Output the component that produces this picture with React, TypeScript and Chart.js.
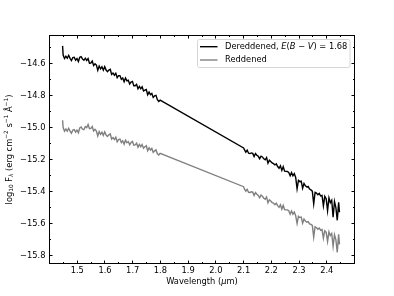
import React, { useEffect, useRef } from "react";
import { Chart, registerables } from "chart.js";

Chart.register(...registerables);

const FONT = "'DejaVu Sans', sans-serif";
const FS = 8.3;

// ---- Data (wavelength in micron, log10 F_lambda) ----
const WL_1 = [
  1.447, 1.449, 1.454, 1.459, 1.464, 1.469, 1.474, 1.479, 1.484, 1.489,
  1.494, 1.499, 1.504, 1.509, 1.514, 1.519, 1.524, 1.529, 1.534, 1.539,
  1.544, 1.549, 1.554, 1.559, 1.564, 1.569, 1.574, 1.579, 1.584, 1.589,
  1.594, 1.599, 1.604, 1.609, 1.614, 1.619, 1.624, 1.629, 1.634, 1.639,
  1.644, 1.649, 1.654, 1.659, 1.664, 1.669, 1.674, 1.679, 1.684, 1.689,
  1.694, 1.699, 1.704, 1.709, 1.714, 1.719, 1.724, 1.729, 1.734, 1.739,
  1.744, 1.749, 1.754, 1.759, 1.764, 1.769, 1.774, 1.779, 1.784, 1.789,
  1.794, 1.799,
];
const DERED_1 = [
  -14.49, -14.547, -14.569, -14.555, -14.567, -14.549, -14.568, -14.582, -14.563, -14.561,
  -14.58, -14.569, -14.588, -14.561, -14.557, -14.573, -14.58, -14.567, -14.581, -14.569,
  -14.598, -14.597, -14.585, -14.613, -14.602, -14.61, -14.643, -14.616, -14.634, -14.621,
  -14.642, -14.62, -14.641, -14.651, -14.641, -14.636, -14.668, -14.66, -14.673, -14.661,
  -14.689, -14.676, -14.676, -14.699, -14.691, -14.714, -14.691, -14.709, -14.705, -14.728,
  -14.716, -14.712, -14.739, -14.739, -14.73, -14.758, -14.743, -14.758, -14.746, -14.772,
  -14.767, -14.763, -14.796, -14.779, -14.795, -14.787, -14.812, -14.802, -14.799, -14.826,
  -14.837, -14.829,
];
const RED_1 = [
  -14.955, -15.0, -15.023, -15.01, -15.023, -15.005, -15.023, -15.036, -15.016, -15.013,
  -15.029, -15.016, -15.033, -15.003, -14.997, -15.011, -15.014, -14.994, -15.001, -14.981,
  -15.008, -15.006, -14.994, -15.022, -15.012, -15.022, -15.053, -15.026, -15.043, -15.03,
  -15.05, -15.027, -15.047, -15.056, -15.046, -15.04, -15.072, -15.063, -15.075, -15.061,
  -15.089, -15.075, -15.072, -15.094, -15.083, -15.105, -15.079, -15.095, -15.088, -15.108,
  -15.094, -15.087, -15.111, -15.109, -15.098, -15.123, -15.106, -15.12, -15.106, -15.129,
  -15.12, -15.114, -15.145, -15.126, -15.141, -15.131, -15.156, -15.146, -15.14, -15.164,
  -15.172, -15.162,
];
const WL_2 = [
  2.1, 2.103, 2.108, 2.113, 2.118, 2.123, 2.128, 2.133, 2.138, 2.143,
  2.148, 2.153, 2.158, 2.163, 2.168, 2.173, 2.178, 2.183, 2.188, 2.193,
  2.198, 2.203, 2.208, 2.213, 2.218, 2.223, 2.228, 2.233, 2.238, 2.243,
  2.248, 2.253, 2.258, 2.263, 2.268, 2.273, 2.278, 2.283, 2.288, 2.293,
  2.298, 2.303, 2.308, 2.313, 2.318, 2.323, 2.328, 2.333, 2.338, 2.343,
  2.348, 2.353, 2.358, 2.363, 2.368, 2.373, 2.378, 2.383, 2.388, 2.393,
  2.398, 2.403, 2.408, 2.413, 2.418, 2.423, 2.428, 2.433, 2.438, 2.443,
  2.446,
];
const DERED_2 = [
  -15.128, -15.138, -15.154, -15.142, -15.161, -15.163, -15.159, -15.162, -15.182, -15.163,
  -15.173, -15.18, -15.195, -15.179, -15.184, -15.196, -15.202, -15.188, -15.223, -15.204,
  -15.212, -15.221, -15.226, -15.234, -15.227, -15.244, -15.255, -15.239, -15.268, -15.245,
  -15.273, -15.274, -15.275, -15.281, -15.302, -15.282, -15.302, -15.288, -15.312, -15.383,
  -15.33, -15.338, -15.335, -15.38, -15.35, -15.365, -15.372, -15.368, -15.385, -15.39,
  -15.398, -15.477, -15.405, -15.41, -15.42, -15.412, -15.428, -15.425, -15.49, -15.43,
  -15.445, -15.52, -15.44, -15.47, -15.455, -15.56, -15.462, -15.5, -15.58, -15.467,
  -15.53,
];
const RED_2 = [
  -15.37, -15.384, -15.398, -15.386, -15.405, -15.406, -15.402, -15.404, -15.425, -15.407,
  -15.417, -15.424, -15.439, -15.423, -15.43, -15.442, -15.448, -15.434, -15.471, -15.452,
  -15.46, -15.469, -15.472, -15.482, -15.473, -15.488, -15.499, -15.483, -15.51, -15.487,
  -15.513, -15.515, -15.515, -15.52, -15.542, -15.522, -15.542, -15.528, -15.551, -15.6,
  -15.555, -15.562, -15.56, -15.598, -15.572, -15.585, -15.592, -15.588, -15.602, -15.606,
  -15.612, -15.685, -15.62, -15.626, -15.636, -15.628, -15.642, -15.638, -15.692, -15.645,
  -15.655, -15.712, -15.652, -15.675, -15.662, -15.742, -15.67, -15.7, -15.78, -15.668,
  -15.73,
];

const X_TICKS = [1.5, 1.6, 1.7, 1.8, 1.9, 2.0, 2.1, 2.2, 2.3, 2.4];
const X_LABELS = ["1.5", "1.6", "1.7", "1.8", "1.9", "2.0", "2.1", "2.2", "2.3", "2.4"];
const X_MINOR = [1.45, 1.55, 1.65, 1.75, 1.85, 1.95, 2.05, 2.15, 2.25, 2.35, 2.45];
const Y_TICKS = [-15.8, -15.6, -15.4, -15.2, -15.0, -14.8, -14.6];
const Y_LABELS = ["\u221215.8", "\u221215.6", "\u221215.4", "\u221215.2", "\u221215.0", "\u221214.8", "\u221214.6"];
const Y_MINOR = [-15.7, -15.5, -15.3, -15.1, -14.9, -14.7, -14.5];

const X_MIN = 1.398;
const X_MAX = 2.502;
const Y_MIN = -15.853;
const Y_MAX = -14.422;

const LABEL_DERED = "Dereddened";
const LABEL_RED = "Reddened";

type Seg = { t: string; italic?: boolean; scale?: number; dy?: number };

function segFont(s: Seg, size: number) {
  return `${s.italic ? "italic " : ""}${size * (s.scale ?? 1)}px ${FONT}`;
}

function richWidth(ctx: CanvasRenderingContext2D, segs: Seg[], size: number) {
  let w = 0;
  for (const s of segs) {
    ctx.font = segFont(s, size);
    w += ctx.measureText(s.t).width;
  }
  return w;
}

function drawRich(
  ctx: CanvasRenderingContext2D,
  segs: Seg[],
  x: number,
  y: number,
  size: number,
  align: "left" | "center"
) {
  const total = richWidth(ctx, segs, size);
  let cx = align === "center" ? x - total / 2 : x;
  ctx.textAlign = "left";
  ctx.textBaseline = "middle";
  ctx.fillStyle = "#000";
  for (const s of segs) {
    ctx.font = segFont(s, size);
    ctx.fillText(s.t, cx, y + (s.dy ?? 0) * size);
    cx += ctx.measureText(s.t).width;
  }
}

const decorPlugin = {
  id: "decor",
  afterDraw(chart: any) {
    const ctx: CanvasRenderingContext2D = chart.ctx;
    const { left, right, top, bottom } = chart.chartArea;
    const xs = chart.scales.x;
    const ys = chart.scales.y;
    ctx.save();
    ctx.strokeStyle = "#000";
    ctx.lineWidth = 1;
    ctx.strokeRect(left + 0.5, top + 0.5, right - left - 1, bottom - top - 1);
    const line = (x1: number, y1: number, x2: number, y2: number) => {
      ctx.beginPath();
      ctx.moveTo(x1, y1);
      ctx.lineTo(x2, y2);
      ctx.stroke();
    };
    const xt = (v: number, len: number) => {
      const p = Math.floor(xs.getPixelForValue(v)) + 0.5;
      if (p <= left + 1 || p >= right - 1) return;
      line(p, bottom, p, bottom - len);
      line(p, top, p, top + len);
    };
    const yt = (v: number, len: number) => {
      const p = Math.floor(ys.getPixelForValue(v)) + 0.5;
      if (p <= top + 1 || p >= bottom - 1) return;
      line(left, p, left + len, p);
      line(right, p, right - len, p);
    };
    X_TICKS.forEach((v) => xt(v, 3.5));
    X_MINOR.forEach((v) => xt(v, 2));
    Y_TICKS.forEach((v) => yt(v, 3.5));
    Y_MINOR.forEach((v) => yt(v, 2));

    // axis titles
    drawRich(
      ctx,
      [{ t: "Wavelength (" }, { t: "\u03bc", italic: true }, { t: "m)" }],
      (left + right) / 2,
      282,
      FS,
      "center"
    );
    ctx.save();
    ctx.translate(9.5, (top + bottom) / 2);
    ctx.rotate(-Math.PI / 2);
    drawRich(
      ctx,
      [
        { t: "log" },
        { t: "10", scale: 0.7, dy: 0.25 },
        { t: " F" },
        { t: "\u03bb", italic: true, scale: 0.7, dy: 0.25 },
        { t: " (erg cm" },
        { t: "\u22122", scale: 0.7, dy: -0.38 },
        { t: " s" },
        { t: "\u22121", scale: 0.7, dy: -0.38 },
        { t: " \u00c5" },
        { t: "\u22121", scale: 0.7, dy: -0.38 },
        { t: ")" },
      ],
      0,
      0,
      FS,
      "center"
    );
    ctx.restore();

    // legend
    const lx = 197.5, ly = 39.5, lw = 152.5, lh = 28, r = 2;
    ctx.beginPath();
    ctx.moveTo(lx + r, ly);
    ctx.lineTo(lx + lw - r, ly);
    ctx.arcTo(lx + lw, ly, lx + lw, ly + r, r);
    ctx.lineTo(lx + lw, ly + lh - r);
    ctx.arcTo(lx + lw, ly + lh, lx + lw - r, ly + lh, r);
    ctx.lineTo(lx + r, ly + lh);
    ctx.arcTo(lx, ly + lh, lx, ly + lh - r, r);
    ctx.lineTo(lx, ly + r);
    ctx.arcTo(lx, ly, lx + r, ly, r);
    ctx.closePath();
    ctx.fillStyle = "rgba(255,255,255,0.8)";
    ctx.fill();
    ctx.strokeStyle = "#d6d6d6";
    ctx.lineWidth = 1;
    ctx.stroke();

    ctx.lineWidth = 1.4;
    ctx.strokeStyle = "#000";
    line(200, 46.7, 217.5, 46.7);
    ctx.strokeStyle = "#808080";
    line(200, 60, 217.5, 60);
    drawRich(
      ctx,
      [
        { t: LABEL_DERED + ", " },
        { t: "E", italic: true },
        { t: "(" },
        { t: "B", italic: true },
        { t: " \u2212 " },
        { t: "V", italic: true },
        { t: ")" },
        { t: " = " },
        { t: "1.68" },
      ],
      225,
      46.7,
      FS,
      "left"
    );
    drawRich(ctx, [{ t: LABEL_RED }], 225, 60, FS, "left");
    ctx.restore();
  },
};

export default function App() {
  const ref = useRef<HTMLCanvasElement>(null);
  useEffect(() => {
    if (!ref.current) return;
    const toPts = (wa: number[], va: number[], wb: number[], vb: number[]) => [
      ...wa.map((w, i) => ({ x: w, y: va[i] })),
      ...wb.map((w, i) => ({ x: w, y: vb[i] })),
    ];
    const chart = new Chart(ref.current, {
      type: "line",
      data: {
        datasets: [
          {
            label: LABEL_DERED,
            data: toPts(WL_1, DERED_1, WL_2, DERED_2),
            borderColor: "#000000",
            borderWidth: 1.4,
            pointRadius: 0,
            tension: 0,
            fill: false,
          },
          {
            label: LABEL_RED,
            data: toPts(WL_1, RED_1, WL_2, RED_2),
            borderColor: "#808080",
            borderWidth: 1.4,
            pointRadius: 0,
            tension: 0,
            fill: false,
          },
        ],
      },
      options: {
        animation: false,
        responsive: false,
        maintainAspectRatio: false,
        layout: { padding: { top: 35, right: 39, left: 0, bottom: 0 } },
        plugins: { legend: { display: false }, tooltip: { enabled: false } },
        scales: {
          x: {
            type: "linear",
            min: X_MIN,
            max: X_MAX,
            grid: { display: false, drawTicks: false },
            border: { display: false },
            afterBuildTicks: (s: any) => {
              s.ticks = X_TICKS.map((v) => ({ value: v }));
            },
            afterFit: (s: any) => {
              s.height = 32;
            },
            ticks: {
              autoSkip: false,
              maxRotation: 0,
              padding: 2,
              color: "#000",
              font: { family: FONT, size: FS },
              callback: (_v: any, i: number) => X_LABELS[i],
            },
          },
          y: {
            type: "linear",
            min: Y_MIN,
            max: Y_MAX,
            grid: { display: false, drawTicks: false },
            border: { display: false },
            afterBuildTicks: (s: any) => {
              s.ticks = Y_TICKS.map((v) => ({ value: v }));
            },
            afterFit: (s: any) => {
              s.width = 49;
            },
            ticks: {
              autoSkip: false,
              padding: 3.5,
              color: "#000",
              font: { family: FONT, size: FS },
              callback: (_v: any, i: number) => Y_LABELS[i],
            },
          },
        },
      },
      plugins: [decorPlugin],
    } as any);
    return () => chart.destroy();
  }, []);
  return (
    <div style={{ position: "absolute", left: 0, top: 0, width: 394, height: 296, background: "#fff" }}>
      <canvas ref={ref} width={394} height={296} style={{ display: "block" }} />
    </div>
  );
}
